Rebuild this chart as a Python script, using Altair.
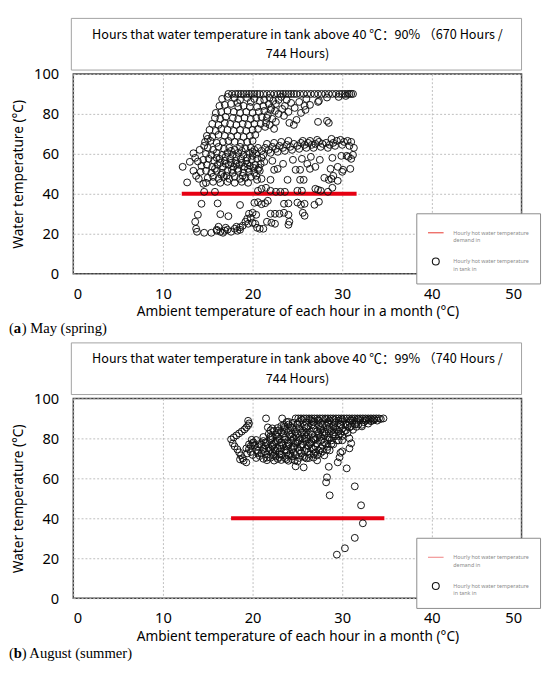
import altair as alt
import pandas as pd

# ---------------- data ----------------
X_TICKS = [0, 10, 20, 30, 40, 50]
Y_TICKS = [0, 10, 20, 30, 40, 50, 60, 70, 80, 90, 100]

DEMAND_LABEL = "Hourly hot water temperature|demand in"
TANK_LABEL = "Hourly hot water temperature|in tank in"

MAY_DEMAND_X = [12.1, 31.6]
AUG_DEMAND_X = [17.6, 34.7]
DEMAND_Y = [40, 40]

MAY_TITLE = ["Hours that water temperature in tank above 40 ℃：90% （670 Hours /", "744 Hours)"]
AUG_TITLE = ["Hours that water temperature in tank above 40 ℃：99% （740 Hours /", "744 Hours)"]

MAY_CAPTION = ["(", "a", ") May (spring)"]
AUG_CAPTION = ["(", "b", ") August (summer)"]

MAY_TOP = [
    (17.3, 90), (17.7, 90), (18.1, 90), (18.4, 90), (18.7, 90), (19.0, 90), (19.3, 90), (19.6, 90),
    (19.9, 90), (20.2, 90), (20.5, 90), (20.8, 90), (21.2, 90), (21.6, 90), (22.0, 90), (22.4, 90),
    (22.8, 90), (23.1, 90), (23.4, 90), (23.7, 90), (24.0, 90), (24.3, 90), (24.6, 90), (24.9, 90),
    (25.3, 90), (25.7, 90), (26.1, 90), (26.5, 90), (26.9, 90), (27.3, 90), (27.7, 90), (28.1, 90),
    (28.5, 90), (28.9, 90), (29.3, 90), (29.7, 90), (30.0, 90), (30.3, 90), (30.6, 90), (30.8, 90),
    (31.0, 90), (31.2, 90), (29.6, 88.5), (30.4, 89), (28.3, 88.2), (27.4, 86.5), (27.3, 86),
    (26.4, 84.5), (25.8, 84),
]
MAY_UPPER_LEFT = [
    (16.6, 87.5), (17.2, 88.5), (18.0, 88), (18.6, 87), (19.4, 88), (20.2, 87.5), (20.8, 86.5),
    (21.3, 87), (19.8, 86), (18.3, 85.5),
    (16.3, 84), (16.9, 84.5), (17.6, 85), (18.4, 83.5), (19.0, 84), (19.7, 83.5), (20.5, 83.5),
    (21.2, 84), (21.8, 85),
    (15.9, 80.5), (16.5, 81), (17.2, 81.5), (17.9, 81), (18.6, 80.5), (19.3, 81), (20.0, 80.5),
    (20.7, 81), (21.3, 81.5), (22.0, 82),
    (15.8, 78), (16.4, 77.5), (17.0, 78.5), (17.8, 78), (18.4, 77.5), (19.1, 78), (19.8, 77.5),
    (20.4, 78), (21.0, 78.5), (21.6, 78),
    (15.5, 75), (16.2, 74.5), (16.9, 75.5), (17.5, 75), (18.2, 74.5), (18.9, 75), (19.5, 74.5),
    (20.2, 75), (20.9, 75), (21.5, 75.5),
    (15.2, 72), (15.9, 71.5), (16.5, 72.5), (17.2, 72), (17.9, 71.5), (18.6, 72), (19.3, 71.5),
    (20.0, 72), (20.6, 72.5),
    (14.9, 69), (15.5, 68.5), (16.2, 69.5), (16.9, 69), (17.6, 68.5), (18.3, 69), (19.0, 68.5),
    (19.7, 69), (20.3, 69.5),
    (14.7, 66), (15.3, 66.5), (16.0, 65.5), (16.7, 66), (17.3, 66.5), (18.0, 66), (18.7, 65.5),
    (19.4, 66), (20.0, 66.5),
]
MAY_UPPER_RIGHT = [
    (21.9, 88), (22.3, 86.5), (22.6, 85), (22.9, 87), (23.2, 88.5), (22.1, 83), (22.5, 81.5),
    (22.9, 80), (23.3, 82.5), (23.6, 84), (21.7, 79.5), (22.2, 77.5), (22.6, 76), (21.4, 73.5),
    (21.9, 74.5), (22.4, 72.5),
    (23.5, 79), (24.1, 75.5), (24.6, 74.5), (24.9, 77), (25.4, 80.5), (25.9, 82), (24.7, 83),
    (25.2, 86), (24.3, 85.5), (24.0, 81), (26.0, 87.5), (23.8, 87),
    (27.3, 76), (28.3, 76.5), (28.5, 75.5),
]
MAY_MIDDLE = [
    (20.2, 62), (20.6, 63), (21.0, 61.5), (21.4, 63), (21.8, 62), (22.2, 63.5), (22.6, 62.5),
    (23.0, 64), (23.4, 63), (23.8, 64.5), (24.2, 63.5), (24.6, 65), (25.0, 64), (25.4, 65.5),
    (25.8, 64.5), (26.2, 65.5), (26.6, 64.5), (27.0, 65), (27.4, 66), (27.8, 65), (28.2, 65.5),
    (28.6, 64.5), (29.0, 65.5), (29.4, 66.5), (29.8, 67), (30.2, 66), (30.6, 66.5), (31.0, 66),
    (31.3, 63), (20.4, 60), (21.2, 59.5), (22.0, 60.5), (22.8, 61), (23.6, 61.5), (24.4, 62),
    (25.2, 62.5), (26.0, 63), (26.8, 63), (27.6, 63.5), (28.4, 63), (29.2, 64), (30.0, 64.5),
    (30.8, 64), (21.6, 65), (22.4, 65.5), (23.2, 66), (24.0, 66.5), (25.6, 66.5), (26.4, 66.5),
    (27.2, 67), (28.8, 67.5),
    (30.5, 59), (31.0, 57.5), (29.9, 59), (28.9, 58), (30.7, 58.5), (31.2, 59.5),
]
MAY_CORE = [
    (15.0, 63), (15.6, 62), (16.2, 63.5), (16.8, 62.5), (17.4, 63), (18.0, 62), (18.6, 63.5),
    (19.2, 62.5), (19.8, 63),
    (14.8, 60), (15.4, 59.5), (16.0, 60.5), (16.6, 59.5), (17.2, 60.5), (17.8, 59.5), (18.4, 60.5),
    (19.0, 59.5), (19.6, 60.5), (20.0, 59),
    (14.5, 57), (15.1, 57.5), (15.7, 56.5), (16.3, 57.5), (16.9, 56.5), (17.5, 57.5), (18.1, 56.5),
    (18.7, 57.5), (19.3, 56.5), (19.9, 57), (20.5, 57.5),
    (14.3, 54), (14.9, 54.5), (15.5, 53.5), (16.1, 54.5), (16.7, 53.5), (17.3, 54.5), (17.9, 53.5),
    (18.5, 54.5), (19.1, 53.5), (19.7, 54), (20.3, 54.5), (20.9, 55),
    (14.2, 51), (14.8, 51.5), (15.4, 50.5), (16.0, 51.5), (16.6, 50.5), (17.2, 51.5), (17.8, 50.5),
    (18.4, 51.5), (19.0, 50.5), (19.6, 51), (20.2, 50.5), (20.8, 51.5),
    (15.0, 48), (15.6, 48.5), (16.2, 47.5), (16.8, 48.5), (17.4, 47.5), (18.0, 48.5), (18.6, 47.5),
    (19.2, 48), (19.8, 48.5), (20.4, 49),
    (14.8, 45.5), (15.6, 46), (16.4, 45.5), (17.2, 46), (18.0, 45.5), (18.8, 46), (19.5, 45.5),
    (17.0, 58.5), (17.6, 61.5), (18.2, 58.5), (18.8, 61.5), (19.4, 58), (20.0, 61), (16.4, 55.5),
    (17.0, 55), (17.6, 55.5), (18.2, 55), (18.8, 55.5), (19.4, 55), (16.0, 58), (15.8, 52.5),
    (16.5, 49.5), (17.1, 49), (17.7, 52), (18.3, 52.5), (18.9, 49), (19.5, 52.5), (20.1, 53),
    (20.7, 53), (21.3, 56), (21.0, 58), (20.6, 52), (20.5, 47),
    (12.2, 53.5), (13.0, 56), (13.4, 60.3), (13.9, 56.2), (13.7, 49), (12.7, 45.7), (13.4, 51.5),
    (14.0, 47.5), (14.5, 45), (14.1, 62), (14.6, 64), (15.0, 67.5), (13.6, 58),
]
MAY_LOWER = [
    (14.6, 41), (15.8, 41), (20.6, 41.5), (21.0, 42.5), (21.5, 43), (22.0, 41.5), (22.6, 41),
    (23.1, 41), (23.6, 41), (25.0, 41.5), (25.5, 41.5), (27.0, 42.5), (27.3, 42), (27.6, 41.5),
    (28.4, 41), (28.9, 43),
    (21.0, 47.5), (22.0, 47), (23.9, 47), (25.3, 47), (25.7, 47), (28.0, 48), (28.5, 47),
    (28.8, 47.5), (29.5, 46.5), (22.4, 52), (22.8, 52.5), (24.8, 52), (25.3, 52), (26.4, 52.5),
    (28.7, 52.5), (29.5, 53.5), (30.1, 52), (30.9, 52.5), (24.5, 57), (25.5, 57.5), (26.5, 58.5),
    (27.5, 57), (27.0, 53.5), (26.1, 55), (23.4, 55), (22.2, 56.5), (29.0, 49), (30.0, 51),
    (14.3, 35), (16.1, 35.2), (18.6, 34.4), (13.9, 29.5), (16.4, 29.8), (17.3, 28.8), (13.6, 26),
    (13.7, 22.5), (13.8, 21), (14.6, 20.5), (15.4, 20.5), (16.0, 22), (16.2, 23.5), (16.4, 21),
    (16.7, 20.5), (16.9, 21.5), (17.2, 22), (16.0, 21.5), (17.6, 21), (18.0, 22.5), (18.3, 21.5),
    (18.6, 22), (18.2, 23.5), (18.9, 24), (19.2, 26), (19.5, 25), (19.8, 28), (20.0, 25.5),
    (20.3, 25), (20.5, 23), (20.8, 22.5), (21.2, 22.5), (21.6, 26), (22.1, 25.5), (22.5, 25),
    (20.2, 35.5), (20.6, 35.8), (21.0, 34.8), (21.4, 35.3), (19.6, 30), (20.0, 30.5), (20.4, 29.5),
    (22.0, 30), (22.5, 30), (23.0, 30), (23.5, 30.5), (24.0, 29.5), (24.1, 26), (24.0, 24.5),
    (23.5, 35), (24.0, 35.2), (25.0, 35.6), (25.4, 34.5), (25.8, 35), (25.6, 30.5), (25.8, 29),
    (26.9, 34.5), (27.4, 36), (19.4, 27.5), (21.7, 36.5), (18.6, 23.2), (17.0, 23),
]

AUG_TOP = [
    (21.5, 90), (23.3, 90), (24.8, 90), (25.1, 90), (25.4, 90), (25.7, 90), (26.0, 90), (26.3, 90),
    (26.6, 90), (26.9, 90), (27.2, 90), (27.5, 90), (27.8, 90), (28.1, 90), (28.4, 90), (28.7, 90),
    (29.0, 90), (29.3, 90), (29.6, 90), (29.9, 90), (30.2, 90), (30.5, 90), (30.8, 90), (31.1, 90),
    (31.4, 90), (31.7, 90), (32.0, 90), (32.3, 90), (32.6, 90), (32.9, 90), (33.2, 90), (33.5, 90),
    (33.8, 90), (34.1, 90), (34.6, 90),
    (25.5, 89.3), (26.4, 89.5), (27.3, 89.2), (28.2, 89.6), (29.1, 89.3), (30.0, 89.5), (30.9, 89.2),
    (31.8, 89.6), (32.7, 89.4), (33.6, 89.5),
]
AUG_BLOB = [
    (23.8, 88.2), (24.5, 87.8), (25.2, 88.3), (26.0, 87.9), (26.8, 88.4), (27.6, 87.7), (28.4, 88.2),
    (29.2, 88.0), (30.0, 88.5), (30.8, 87.8), (31.6, 88.3), (32.4, 88.1), (33.2, 88.6), (33.9, 88.9),
    (23.5, 86.7), (24.2, 86.2), (25.0, 86.8), (25.8, 86.3), (26.6, 86.9), (27.4, 86.4), (28.2, 86.6),
    (29.0, 86.1), (29.8, 86.8), (30.6, 86.5), (31.4, 87.0), (32.2, 86.8), (32.9, 87.4),
    (22.8, 85.2), (23.6, 84.7), (24.4, 85.3), (25.2, 84.8), (26.0, 85.4), (26.8, 84.9), (27.6, 85.1),
    (28.4, 84.6), (29.2, 85.3), (30.0, 85.0), (30.8, 85.5), (31.6, 85.8), (32.2, 86.0),
    (22.4, 83.7), (23.2, 83.2), (24.0, 83.8), (24.8, 83.3), (25.6, 83.9), (26.4, 83.4), (27.2, 83.6),
    (28.0, 83.1), (28.8, 83.8), (29.6, 83.5), (30.4, 84.0), (31.2, 84.3),
    (21.8, 82.2), (22.6, 81.7), (23.4, 82.3), (24.2, 81.8), (25.0, 82.4), (25.8, 81.9), (26.6, 82.1),
    (27.4, 81.6), (28.2, 82.3), (29.0, 82.0), (29.8, 82.5), (30.6, 82.8),
    (21.2, 80.7), (22.0, 80.2), (22.8, 80.8), (23.6, 80.3), (24.4, 80.9), (25.2, 80.4), (26.0, 80.6),
    (26.8, 80.1), (27.6, 80.8), (28.4, 80.5), (29.2, 81.0), (30.0, 81.2),
    (20.4, 79.2), (21.2, 78.7), (22.0, 79.3), (22.8, 78.8), (23.6, 79.4), (24.4, 78.9), (25.2, 79.1),
    (26.0, 78.6), (26.8, 79.3), (27.6, 79.0), (28.4, 79.5), (29.4, 79.0),
    (20.0, 77.7), (20.8, 77.2), (21.6, 77.8), (22.4, 77.3), (23.2, 77.9), (24.0, 77.4), (24.8, 77.6),
    (25.6, 77.1), (26.4, 77.8), (27.2, 77.5), (28.0, 78.0), (28.8, 77.3),
    (19.8, 76.2), (20.6, 75.7), (21.4, 76.3), (22.2, 75.8), (23.0, 76.4), (23.8, 75.9), (24.6, 76.1),
    (25.4, 75.6), (26.2, 76.3), (27.0, 76.0), (27.8, 76.5), (28.4, 75.8),
    (19.6, 74.7), (20.4, 74.2), (21.2, 74.8), (22.0, 74.3), (22.8, 74.9), (23.6, 74.4), (24.4, 74.6),
    (25.2, 74.1), (26.0, 74.8), (26.8, 74.5), (27.6, 75.0), (28.3, 74.3),
    (19.8, 73.2), (20.6, 72.7), (21.4, 73.3), (22.2, 72.8), (23.0, 73.4), (23.8, 72.9), (24.6, 73.1),
    (25.4, 72.6), (26.2, 73.3), (27.0, 73.0), (27.8, 73.5),
    (20.0, 71.7), (20.8, 71.2), (21.6, 71.8), (22.4, 71.3), (23.2, 71.9), (24.0, 71.4), (24.8, 71.6),
    (25.6, 71.1), (26.4, 71.8), (27.2, 71.5),
    (20.4, 70.2), (21.2, 69.8), (22.0, 70.3), (22.8, 69.7), (23.6, 70.1), (24.4, 69.6), (25.2, 70.2),
    (26.0, 70.0), (26.8, 70.4),
    (21.6, 69.1), (22.4, 68.9), (23.2, 69.2), (24.0, 68.8), (24.7, 69.0),
    (22.6, 78.3), (23.4, 81.0), (24.2, 84.2), (25.0, 78.0), (25.8, 80.0), (26.6, 75.0), (27.4, 82.7),
    (23.0, 72.0), (24.6, 75.4), (26.2, 86.0), (27.8, 87.0), (28.6, 85.7), (29.4, 84.4), (21.0, 76.9),
    (21.8, 73.9), (22.6, 70.9), (24.0, 86.9), (25.4, 83.0), (23.9, 78.0), (22.2, 80.8),
]
AUG_DENSE = [
    (21.0, 72.5), (21.8, 75.2), (22.6, 73.6), (23.4, 76.6), (24.2, 72.2), (25.0, 75.3), (25.8, 73.7),
    (26.6, 78.2), (27.4, 74.0), (28.2, 77.0), (21.4, 78.0), (22.2, 76.7), (23.0, 79.8), (23.8, 74.0),
    (24.6, 80.2), (25.4, 76.8), (26.2, 81.8), (27.0, 79.5), (27.8, 83.0), (28.6, 80.3), (22.0, 81.2),
    (22.8, 82.8), (23.6, 85.8), (24.4, 82.5), (25.2, 85.6), (26.0, 83.0), (26.8, 86.5), (27.6, 84.2),
    (28.4, 87.4), (29.2, 83.0), (29.8, 87.2), (30.4, 86.9), (31.0, 88.9), (31.8, 87.0), (32.6, 88.8),
    (33.4, 89.0), (30.2, 83.4), (31.0, 86.0), (29.6, 81.2), (28.8, 79.0), (20.6, 73.8), (20.2, 76.5),
    (21.6, 70.4), (23.0, 70.6), (24.4, 71.0), (25.8, 70.6), (26.8, 72.3), (27.6, 72.7), (25.6, 79.6),
    (24.8, 81.3), (23.2, 74.8), (22.4, 74.8), (24.0, 76.4), (26.4, 77.2), (27.2, 80.2), (28.0, 81.4),
    (29.0, 84.6), (25.0, 87.4), (26.6, 88.8), (27.4, 88.8), (28.6, 89.0), (29.6, 88.9), (31.2, 89.0),
    (32.0, 89.2), (33.0, 89.3), (34.3, 89.7), (24.0, 88.3), (23.2, 86.2), (22.9, 84.0),
]
AUG_EDGES = [
    (17.6, 79.5), (17.9, 80.5), (18.2, 81.5), (18.5, 82.5), (18.8, 83.5), (19.1, 84.5), (19.3, 85.5),
    (19.5, 86.5), (19.6, 87.5), (19.5, 88.8), (17.8, 77.5), (18.0, 76), (18.3, 74.5), (18.5, 73),
    (18.7, 71.5), (18.9, 70), (19.0, 68.8), (19.3, 68), (18.6, 69.5), (19.4, 72.5), (19.3, 75),
    (19.6, 77), (19.9, 79.3), (20.1, 78),
    (21.7, 85.5), (22.2, 85), (22.0, 84), (24.8, 66), (25.7, 65.5), (28.5, 65.8), (28.3, 60.5),
    (28.2, 58), (28.6, 51.5), (29.5, 68), (29.8, 72.8), (29.7, 70.5), (30.0, 73.5), (30.0, 79),
    (30.8, 80), (31.0, 77.5), (30.8, 75), (30.5, 65), (31.4, 56), (32.1, 46.5), (32.3, 37.5),
    (31.4, 30.2), (30.3, 25), (29.4, 21.8), (27.2, 69), (26.3, 70.2), (25.0, 68.5), (23.8, 69.5),
    (28.6, 74), (29.0, 77), (28.0, 71.5), (29.6, 79),
]

MAY_POINTS = MAY_TOP + MAY_UPPER_LEFT + MAY_UPPER_RIGHT + MAY_MIDDLE + MAY_CORE + MAY_LOWER
AUG_POINTS = AUG_TOP + AUG_BLOB + AUG_DENSE + AUG_EDGES

# ---------------- chart ----------------
W, H = 460, 205
FONT = "Noto Sans"
CJK = "Noto Sans CJK SC"
SERIF = "Liberation Serif"


def panel(points, demand_x, title_lines, caption, legend_red):
    pts = pd.DataFrame(points, columns=["ambient", "water"])
    pts["series"] = TANK_LABEL
    dem = pd.DataFrame({"ambient": demand_x, "water": DEMAND_Y})
    one = pd.DataFrame({"k": [0]})

    xenc = alt.X(
        "ambient:Q",
        scale=alt.Scale(domain=[0, 50], nice=False, zero=False),
        axis=alt.Axis(values=X_TICKS, title="Ambient temperature of each hour in a month (°C)",
                      labelPadding=13, titlePadding=4),
    )
    yenc = alt.Y(
        "water:Q",
        scale=alt.Scale(domain=[0, 100], nice=False),
        axis=alt.Axis(values=Y_TICKS, title="Water temperature (°C)", labelPadding=15,
                      titlePadding=8),
    )

    legend = alt.Legend(
        title=None, orient="none", legendX=352, legendY=143, padding=11,
        strokeColor="#8a8a8a", fillColor="white", labelFont=FONT, labelFontSize=5.5,
        labelColor="#8a8a8a", labelOffset=9, rowPadding=12, symbolStrokeWidth=1.1,
        labelExpr="split(datum.label, '|')", labelLimit=200,
    )
    dom = [DEMAND_LABEL, TANK_LABEL]

    line = alt.Chart(dem).mark_line(color="#e60012", strokeWidth=4, strokeCap="butt").encode(
        x=xenc, y=yenc
    )
    scatter = alt.Chart(pts).mark_point(filled=False, opacity=1, strokeWidth=1).encode(
        x="ambient:Q",
        y="water:Q",
        color=alt.Color("series:N", scale=alt.Scale(domain=dom, range=[legend_red, "#111111"]),
                        legend=legend),
        shape=alt.Shape("series:N", scale=alt.Scale(domain=dom, range=["stroke", "circle"]),
                        legend=legend),
        size=alt.Size("series:N", scale=alt.Scale(domain=dom, range=[256, 50]), legend=legend),
    )
    box = alt.Chart(one).mark_rect(fill="white", stroke="#a0a0a0", strokeWidth=1).encode(
        x=alt.value(-2), x2=alt.value(W), y=alt.value(-57), y2=alt.value(-4)
    )
    line1 = alt.Chart(one).mark_text(
        font=CJK, fontSize=13, align="center", baseline="middle", color="black"
    ).encode(x=alt.value(W / 2), y=alt.value(-40), text=alt.value(title_lines[0]))
    line2 = alt.Chart(one).mark_text(
        font=CJK, fontSize=13, align="center", baseline="middle", color="black"
    ).encode(x=alt.value(W / 2), y=alt.value(-20), text=alt.value(title_lines[1]))

    cap_y = H + 56
    cap1 = alt.Chart(one).mark_text(font=SERIF, fontSize=15, align="left", baseline="middle",
                                    color="black").encode(
        x=alt.value(-66), y=alt.value(cap_y), text=alt.value(caption[0]))
    cap2 = alt.Chart(one).mark_text(font=SERIF, fontSize=15, align="left", baseline="middle",
                                    fontWeight="bold", color="black").encode(
        x=alt.value(-61), y=alt.value(cap_y), text=alt.value(caption[1]))
    cap3 = alt.Chart(one).mark_text(font=SERIF, fontSize=15, align="left", baseline="middle",
                                    color="black").encode(
        x=alt.value(-53), y=alt.value(cap_y), text=alt.value(caption[2]))

    return alt.layer(box, line1, line2, line, scatter, cap1, cap2, cap3).properties(
        width=W, height=H
    )


top = panel(MAY_POINTS, MAY_DEMAND_X, MAY_TITLE, MAY_CAPTION, "#e8453c")
bottom = panel(AUG_POINTS, AUG_DEMAND_X, AUG_TITLE, AUG_CAPTION, "#f08a8a")

chart = (
    alt.vconcat(top, bottom, spacing=4)
    .resolve_scale(color="independent", shape="independent", size="independent")
    .resolve_legend(color="independent", shape="independent", size="independent")
    .properties(padding=0, background="white")
    .configure_view(stroke="#404040", strokeWidth=1.5)
    .configure_axis(
        labelFont=FONT, labelFontSize=15, labelColor="black",
        titleFont=FONT, titleFontSize=14, titleFontWeight="normal", titleColor="black",
        ticks=False, domain=False, grid=True, gridColor="#bdbdbd", gridDash=[2, 2], gridWidth=1,
    )
)

chart.save("out.html", embed_options={"renderer": "svg", "actions": False})
